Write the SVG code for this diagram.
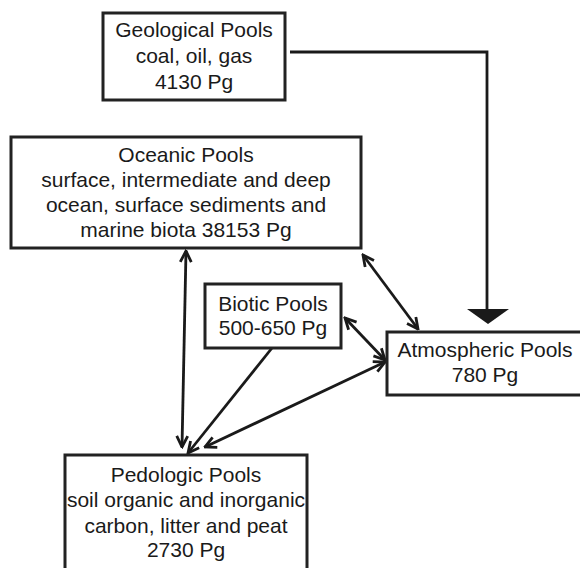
<svg xmlns="http://www.w3.org/2000/svg" width="580" height="568" viewBox="0 0 580 568">
<style>
.box{fill:#fff;stroke:#222;stroke-width:3}
.t{font-family:"Liberation Sans",Arial,sans-serif;font-size:21px;fill:#1a1a1a;text-anchor:middle}
.c{fill:none;stroke:#1a1a1a;stroke-width:2.8}
</style>
<defs>
<marker id="ah" viewBox="0 0 14 14" refX="12.5" refY="7" markerWidth="14" markerHeight="14" markerUnits="userSpaceOnUse" orient="auto-start-reverse">
<path d="M1.5,1.5 L12.5,7 L1.5,12.5" fill="none" stroke="#1a1a1a" stroke-width="2.8" stroke-linejoin="miter"/>
</marker>
</defs>
<rect width="580" height="568" fill="#fff"/>
<g id="connectors">
<polyline class="c" points="290,52 487,52 487,310"/>
<polygon points="467,309 509,309 488,324" fill="#1a1a1a"/>
<line class="c" x1="186" y1="251" x2="182" y2="447" marker-start="url(#ah)" marker-end="url(#ah)"/>
<line class="c" x1="363" y1="255" x2="418" y2="329" marker-start="url(#ah)" marker-end="url(#ah)"/>
<line class="c" x1="345" y1="318" x2="385" y2="360" marker-start="url(#ah)" marker-end="url(#ah)"/>
<line class="c" x1="272" y1="348" x2="188" y2="453" marker-end="url(#ah)"/>
<line class="c" x1="205" y1="447" x2="385" y2="362" marker-start="url(#ah)" marker-end="url(#ah)"/>
</g>
<g id="geological">
<rect class="box" x="103" y="13" width="182" height="87"/>
<text class="t" x="194" y="37">Geological Pools</text>
<text class="t" x="194" y="63">coal, oil, gas</text>
<text class="t" x="194" y="89">4130 Pg</text>
</g>
<g id="oceanic">
<rect class="box" x="11" y="137" width="350" height="111"/>
<text class="t" x="186" y="162">Oceanic Pools</text>
<text class="t" x="186" y="187">surface, intermediate and deep</text>
<text class="t" x="186" y="212">ocean, surface sediments and</text>
<text class="t" x="186" y="237">marine biota 38153 Pg</text>
</g>
<g id="biotic">
<rect class="box" x="205" y="284" width="136" height="64"/>
<text class="t" x="273" y="311">Biotic Pools</text>
<text class="t" x="273" y="335">500-650 Pg</text>
</g>
<g id="atmospheric">
<rect class="box" x="387" y="332" width="196" height="63"/>
<text class="t" x="485" y="357">Atmospheric Pools</text>
<text class="t" x="485" y="382">780 Pg</text>
</g>
<g id="pedologic">
<rect class="box" x="65" y="455" width="242" height="120"/>
<text class="t" x="186" y="482">Pedologic Pools</text>
<text class="t" x="186" y="507">soil organic and inorganic</text>
<text class="t" x="186" y="533">carbon, litter and peat</text>
<text class="t" x="186" y="557">2730 Pg</text>
</g>
</svg>
